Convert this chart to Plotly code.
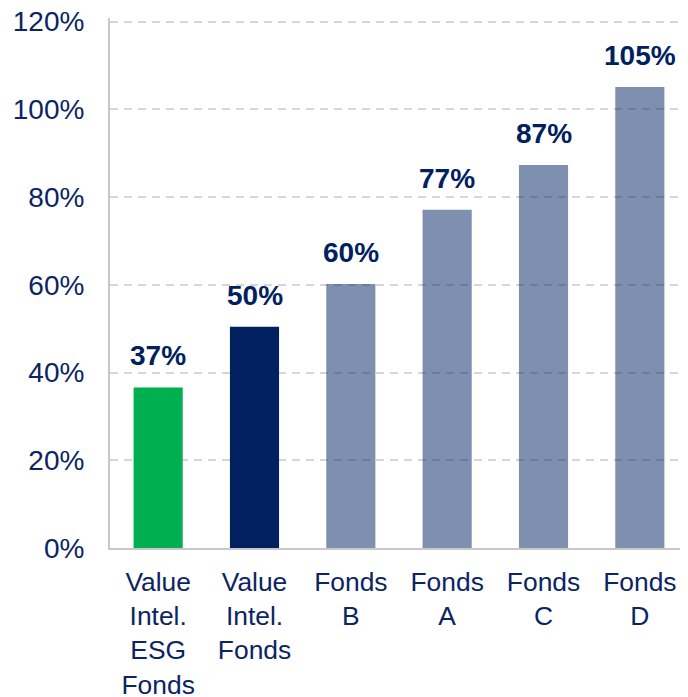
import plotly.graph_objects as go

# ── Datos ──────────────────────────────────────────────────────────────────────
categorias = ["Value<br>Intel.<br>ESG<br>Fonds", "Value<br>Intel.<br>Fonds",
              "Fonds<br>B", "Fonds<br>A", "Fonds<br>C", "Fonds<br>D"]
valores = [36.6, 50.4, 60.2, 77.1, 87.3, 105.1]
colores = ["#00B050", "#002060", "rgba(0,32,96,0.5)", "rgba(0,32,96,0.5)",
           "rgba(0,32,96,0.5)", "rgba(0,32,96,0.5)"]
y_ticks = [0, 20, 40, 60, 80, 100, 120]
y_ticktext = [f"{t}%" for t in y_ticks]

NAVY = "#0B2463"
FONT = "Liberation Sans, Arial, sans-serif"

fig = go.Figure(go.Bar(
    x=categorias, y=valores,
    marker=dict(color=colores, line=dict(width=0)),
    width=0.51,
    hoverinfo="skip",
))

# Etiquetas de valor encima de cada barra
for c, v in zip(categorias, valores):
    fig.add_annotation(
        x=c, y=v, text=f"<b>{round(v)}%</b>",
        showarrow=False, yanchor="bottom", yshift=14,
        font=dict(size=28, color="#002060", family=FONT),
    )

# el body de la página añade ~8px de margen: se compensa con el tamaño
fig.update_layout(
    width=680, height=689,
    margin=dict(l=102, r=0, t=10, b=149),
    plot_bgcolor="white", paper_bgcolor="white",
    font=dict(family=FONT, size=28, color=NAVY),
    showlegend=False,
)
fig.update_yaxes(
    range=[0, 120.8], tickvals=y_ticks, ticktext=y_ticktext,
    showgrid=True, gridcolor="#D6D6D6", gridwidth=2, griddash="8px,6px",
    zeroline=False, automargin=False, ticklabeloverflow="allow",
    showline=True, linecolor="#C8C8C8", linewidth=2,
    ticks="", ticklabelstandoff=18,
    tickfont=dict(size=28, color=NAVY),
)
fig.update_xaxes(
    showgrid=False, zeroline=False, automargin=False, ticklabeloverflow="allow",
    showline=True, linecolor="#C8C8C8", linewidth=2,
    ticks="", ticklabelstandoff=9,
    tickfont=dict(size=26.4, color=NAVY),
)

fig.write_html("out.html")
